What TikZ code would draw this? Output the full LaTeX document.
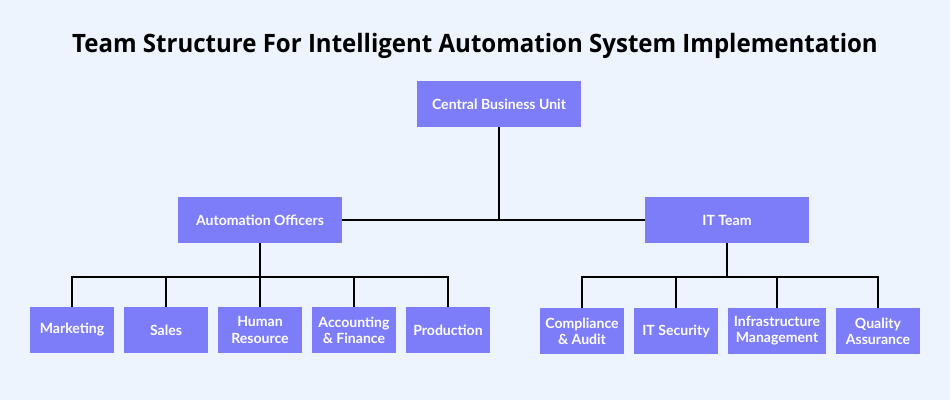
\documentclass[tikz,border=0pt]{standalone}
\usepackage{fontspec}
\setmainfont{Lato}
\newfontfamily\titlefont[FakeStretch=0.95]{Open Sans}
\usetikzlibrary{positioning}
\definecolor{bgblue}{HTML}{EEF4FE}
\definecolor{boxblue}{HTML}{7D7CF9}

\begin{document}
\begin{tikzpicture}[x=0.02cm,y=-0.02cm]

      \fill[bgblue] (0,0) rectangle (950,400);
      \useasboundingbox (0,0) rectangle (950,400);

      \node (title) at (475,46) {\titlefont\bfseries\fontsize{14.4}{17}\selectfont Team Structure For Intelligent Automation System Implementation};

      \begin{scope}[every node/.style={fill=boxblue,text=white,align=center,
          minimum height=0.92cm,inner sep=0pt,font=\bfseries\fontsize{8}{9.2}\selectfont}]
        \node[minimum width=3.28cm] (cbu) at (499,104) {Central Business Unit};
        \node[minimum width=3.28cm] (ao) at (260,220) {Automation Officers};
        \node[minimum width=3.28cm] (it) at (727,220) {IT Team};

        \node[minimum width=1.68cm] (mkt) at (72,330) {Marketing};
        \node[minimum width=1.68cm] (sal) at (166,330) {Sales};
        \node[minimum width=1.68cm] (hr) at (260,330) {Human\\Resource};
        \node[minimum width=1.68cm] (acc) at (354,330) {Accounting\\\& Finance};
        \node[minimum width=1.68cm] (pro) at (448,330) {Production};

        \node[minimum width=1.68cm] (cmp) at (582,331) {Compliance\\\& Audit};
        \node[minimum width=1.68cm] (sec) at (676,331) {IT Security};
        \node[minimum width=1.96cm] (inf) at (777,331) {Infrastructure\\Management};
        \node[minimum width=1.68cm] (qa) at (878,331) {Quality\\Assurance};
      \end{scope}

      \coordinate (lbar) at (260,277);
      \coordinate (rbar) at (727,277);

      \begin{scope}[line width=1.2pt]
        \draw (cbu.south) -- (cbu.south |- ao.east);
        \draw (ao.east) -- (it.west);
        \draw (ao.south) -- (lbar);
        \draw (it.south) -- (rbar);
        \foreach \n in {mkt,sal,hr,acc,pro}
          \draw (lbar) -| (\n.north);
        \foreach \n in {cmp,sec,inf,qa}
          \draw (rbar) -| (\n.north);
      \end{scope}
    \end{tikzpicture}
\end{document}
